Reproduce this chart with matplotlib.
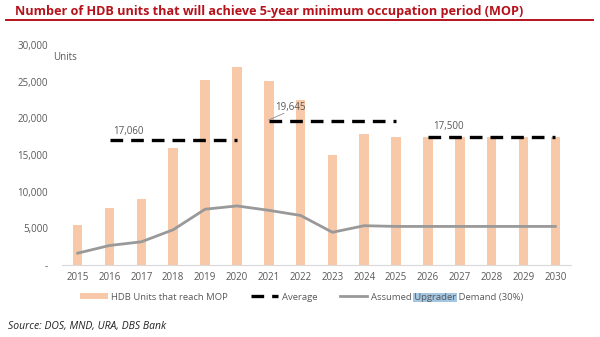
import matplotlib
matplotlib.use("Agg")
import matplotlib.pyplot as plt
from matplotlib.patches import Patch, Rectangle
from matplotlib.lines import Line2D
import numpy as np

years = ["2015", "2016", "2017", "2018", "2019", "2020", "2021", "2022",
         "2023", "2024", "2025", "2026", "2027", "2028", "2029", "2030"]
mop_units = [5400, 7700, 9000, 16000, 25200, 27050, 25150, 22500,
             15000, 17850, 17400, 17400, 17400, 17400, 17400, 17400]
upgrader_demand = [1600, 2650, 3150, 4800, 7600, 8050, 7450, 6750,
                   4450, 5350, 5250, 5250, 5250, 5250, 5250, 5250]
avg_values = [17060, 19645, 17500]
avg_start = ["2016", "2021", "2026"]
avg_end = ["2020", "2025", "2030"]
avg_labels = ["17,060", "19,645", "17,500"]
yticks = [0, 5000, 10000, 15000, 20000, 25000, 30000]
ytick_labels = ["-", "5,000", "10,000", "15,000", "20,000", "25,000", "30,000"]

plt.rcParams['font.family'] = ['Open Sans', 'DejaVu Sans']

fig = plt.figure(figsize=(6, 3.37), dpi=100)
ax = fig.add_axes([0.103, 0.214, 0.849, 0.652])

x = np.arange(len(years))
bar_color = "#F7C9A9"
ax.bar(x, mop_units, width=0.3, color=bar_color, zorder=1)
ax.plot(x, upgrader_demand, color="#999999", lw=2.0, zorder=2)

idx = {y: i for i, y in enumerate(years)}
for v, s, e in zip(avg_values, avg_start, avg_end):
    ax.plot([idx[s], idx[e]], [v, v], color="black", lw=2.4,
            dashes=(3.8, 2.4), zorder=3, solid_capstyle='butt', dash_capstyle='butt')

tc = "#595959"
ax.text(1.1, 18250, avg_labels[0], fontsize=7, color=tc, ha="left", va="center")
ax.text(6.2, 21450, avg_labels[1], fontsize=7, color=tc, ha="left", va="center")
ax.annotate("", xy=(idx["2021"], avg_values[1] + 150), xytext=(6.48, 20700),
            arrowprops=dict(arrowstyle="-", color="#8C8C8C", lw=0.6,
                            shrinkA=0, shrinkB=0))
ax.text(11.15, 18950, avg_labels[2], fontsize=7, color=tc, ha="left", va="center")

ax.set_xlim(-0.5, len(years) - 0.5)
ax.set_ylim(0, 30000)
ax.set_xticks(x)
ax.set_xticklabels(years, fontsize=7, color=tc)
ax.set_yticks(yticks)
ax.set_yticklabels(ytick_labels, fontsize=7, color=tc)
ax.tick_params(axis="both", length=0)
ax.tick_params(axis="y", pad=10)
ax.tick_params(axis="x", pad=5)
for side in ["top", "right", "left"]:
    ax.spines[side].set_visible(False)
ax.spines["bottom"].set_color("#D9D9D9")
ax.spines["bottom"].set_linewidth(0.8)

fig.text(53 / 600, 1 - 57 / 337, "Units", fontsize=7, color=tc, ha="left", va="center")

# Title
fig.text(15 / 600, 1 - 11 / 337,
         "Number of HDB units that will achieve 5-year minimum occupation period (MOP)",
         fontsize=9.1, fontweight="bold", color="#B5121B", ha="left", va="center")
fig.add_artist(Line2D([6 / 600, 593 / 600], [1 - 20 / 337, 1 - 20 / 337],
                      color="#B5121B", lw=1.4))

handles = [Patch(facecolor=bar_color, edgecolor="none"),
           Line2D([0], [0], color="black", lw=2.4, dashes=(3.8, 2.4)),
           Line2D([0], [0], color="#999999", lw=2.0)]
labels = ["HDB Units that reach MOP", "Average", "Assumed Upgrader Demand (30%)"]
leg = fig.legend(handles, labels, loc="center", bbox_to_anchor=(0.503, 1 - 297 / 337),
                 ncol=3, frameon=False, fontsize=6.8, handlelength=2.9, handleheight=0.6,
                 columnspacing=2.4, handletextpad=0.4)
for t in leg.get_texts():
    t.set_color(tc)

fig.text(8 / 600, 1 - 326 / 337, "Source: DOS, MND, URA, DBS Bank",
         fontsize=7.5, style="italic", color="#222222", ha="left", va="center")

# highlight behind the word "Upgrader" in the legend (as in the reference)
fig.canvas.draw()
r = fig.canvas.get_renderer()
lt = leg.get_texts()[2]
bb = lt.get_window_extent(r)
props = lt.get_fontproperties()
tmp1 = fig.text(0, 0, "Assumed ", fontproperties=props)
tmp2 = fig.text(0, 0, "Upgrader", fontproperties=props)
w1 = tmp1.get_window_extent(r).width
w2 = tmp2.get_window_extent(r).width
tmp1.remove(); tmp2.remove()
x0 = bb.x0 + w1 - 1
fig.add_artist(Rectangle((x0 / fig.bbox.width, bb.y0 / fig.bbox.height),
                         (w2 + 2) / fig.bbox.width, bb.height / fig.bbox.height,
                         transform=fig.transFigure, facecolor="#A3C6E2",
                         edgecolor="none", zorder=-1))

fig.savefig("out.png", dpi=100)
